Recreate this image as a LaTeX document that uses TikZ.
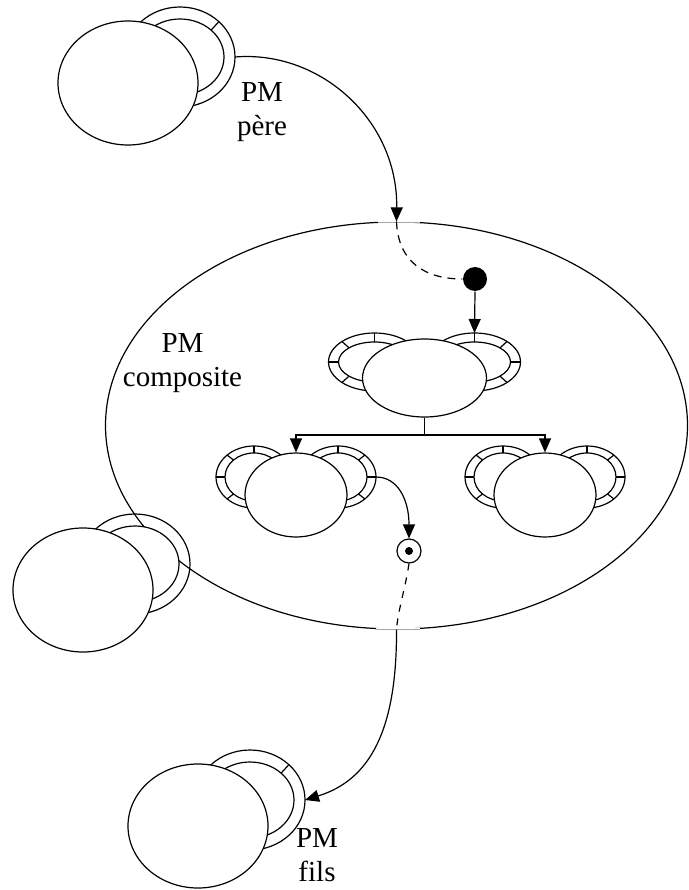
\documentclass[tikz,border=0pt]{standalone}
\usepackage{fontspec}
\setmainfont{Liberation Serif}
\usetikzlibrary{shapes.geometric,arrows.meta}

% simple PM: name, cx, cy, extra
\newcommand\simplepm[4]{%
  \draw ({#2+52},{#3-26}) ellipse [x radius=55pt, y radius=50pt];
  \filldraw[fill=white] ({#2+52},{#3-26}) ellipse [x radius=44pt, y radius=38pt];
  \coordinate (#1-re) at ({#2+52+55},{#3-26});
  #4
  \node[mainell, minimum width=140pt, minimum height=124pt] (#1) at (#2,#3) {};
}
% ring with dividers: name, cx, cy, ox, oy, ix, iy
\newcommand\fancyring[7]{%
  \coordinate (#1) at (#2,#3);
  \filldraw[fill=white] (#2,#3) ellipse [x radius=#4pt, y radius=#5pt];
  \filldraw[fill=white] (#2,#3) ellipse [x radius=#6pt, y radius=#7pt];
  \foreach \t in {0,45,...,315}
    \draw ({#2+#6*cos(\t)},{#3-#7*sin(\t)}) -- ({#2+#4*cos(\t)},{#3-#5*sin(\t)});
}

\begin{document}
\begin{tikzpicture}[x=1pt,y=-1pt,line width=1.2pt,
  mainell/.style={ellipse, draw, fill=white, inner sep=0pt},
  arr/.style={-{Triangle[length=14pt,width=12pt]}},
  dashline/.style={dash pattern=on 8pt off 6pt},
  lbl/.style={align=center, inner sep=0pt, font=\fontsize{29}{34}\selectfont}]
\useasboundingbox (0,0) rectangle (688,890);

% composite
\node[ellipse, draw, minimum width=582pt, minimum height=407pt, inner sep=0pt] (comp) at (396.5,425.5) {};
\draw[white, line width=1.6pt] (378,222.2) -- (420,222.2);
\draw[black!35, line width=0.5pt] (378,222.2) -- (420,222.2);
\draw[white, line width=1.6pt] (376,628.8) -- (420,628.8);
\draw[black!35, line width=0.5pt] (376,628.8) -- (420,628.8);

% simple PMs
\simplepm{pere}{128}{83}{\draw ({180+44*cos(45)},{57-38*sin(45)}) -- ({180+55*cos(45)},{57-50*sin(45)});}
\simplepm{side}{83}{590}{}
\simplepm{fils}{198}{826}{\draw ({250+44*cos(45)},{800-38*sin(45)}) -- ({250+55*cos(45)},{800-50*sin(45)});}

% upper composite child
\fancyring{ul}{374.5}{362}{46}{29}{36}{20}
\fancyring{ur}{474.5}{362}{46}{29}{36}{20}
\node[mainell, minimum width=124pt, minimum height=78pt] (up) at (424.5,378) {};
% lower children
\fancyring{lll}{254}{477}{38}{31}{29}{24}
\fancyring{llr}{338}{477}{38}{31}{29}{24}
\node[mainell, minimum width=102pt, minimum height=84pt] (ll) at (296,495) {};
\fancyring{lrl}{503}{477}{38}{31}{29}{24}
\fancyring{lrr}{587}{477}{38}{31}{29}{24}
\node[mainell, minimum width=102pt, minimum height=84pt] (lr) at (545,495) {};

% ports
\node[circle, fill=black, minimum size=24pt, inner sep=0pt] (src) at (475,279) {};
\node[circle, draw, fill=white, minimum size=24pt, inner sep=0pt] (obs) at (409,551) {};
\fill (obs.center) circle (4pt);

\coordinate (urtop) at (474.5,333);
\coordinate (llre) at (376,477);
\coordinate (junc) at (424.5,435);

% connectors
\draw[arr] (pere-re) .. controls (320,50) and (398,120) .. (comp.north);
\draw[dashline] (comp.north) .. controls (398,262) and (425,279) .. (src.west);
\draw[arr] (src.south) -- (urtop);
\draw (up.south) -- (junc);
\draw[arr] (junc) -| (ll.north);
\draw[arr] (junc) -| (lr.north);
\draw[arr] (llre) .. controls (398,477) and (409,500) .. (obs.north);
\draw[dash pattern=on 7pt off 7pt] (obs.south) .. controls (405,590) and (398,610) .. (comp.south);
\draw[arr] (comp.south) .. controls (397,730) and (370,780) .. (fils-re);

% labels
\node[lbl, anchor=north] (pmpere) at (262,82) {PM\\père};
\node[lbl, anchor=north] (pmcomp) at (182.5,333) {PM\\composite};
\node[lbl, anchor=north] (pmfils) at (317,828) {PM\\fils};
\end{tikzpicture}
\end{document}
